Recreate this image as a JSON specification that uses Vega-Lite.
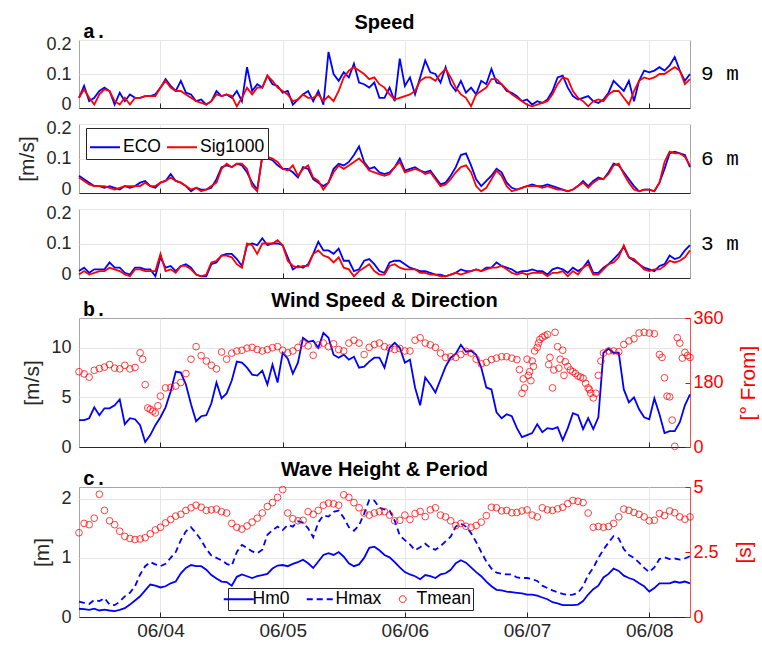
{
"$schema": "https://vega.github.io/schema/vega-lite/v6.json",
"padding": {"left": 16, "top": 12, "right": 0, "bottom": 0},
"background": "white",
"bounds": "flush",
"spacing": 16,
"config": {
  "font": "Liberation Sans",
  "view": {"stroke": "#a6a6a6", "strokeWidth": 1},
  "axis": {"labelFont": "Liberation Sans", "labelFontSize": 18, "labelColor": "#262626", "titleFont": "Liberation Sans", "titleFontSize": 21, "titleFontWeight": "normal", "titleColor": "#262626", "gridColor": "#e6e6e6", "gridWidth": 1, "domainColor": "#262626", "tickColor": "#262626", "labelPadding": 8, "labelOverlap": false},
  "title": {"font": "Liberation Sans", "fontSize": 20, "fontWeight": "bold", "color": "#000000", "anchor": "middle", "frame": "group", "baseline": "alphabetic", "offset": -11}
},
"resolve": {"scale": {"color": "independent"}, "legend": {"color": "independent"}},
"datasets": {
"h": [
{"t":"2021-06-03T08:00","e9":0.03,"s9":0.03,"e6":0.05,"s6":0.045,"e3":0.02,"s3":0.01,"ws":2.7,"hm":0.14,"hx":0.26,"tm":3.24},
{"t":"2021-06-03T09:00","e9":0.065,"s9":0.055,"e6":0.04,"s6":0.035,"e3":0.03,"s3":0.02,"ws":2.7,"hm":0.135,"hx":0.24,"tm":3.6},
{"t":"2021-06-03T10:00","e9":0.02,"s9":0.03,"e6":0.03,"s6":0.025,"e3":0.015,"s3":0.01,"ws":2.9,"hm":0.12,"hx":0.22,"tm":3.55},
{"t":"2021-06-03T11:00","e9":0.03,"s9":0.01,"e6":0.02,"s6":0.02,"e3":0.025,"s3":0.015,"ws":4.0,"hm":0.14,"hx":0.29,"tm":3.8},
{"t":"2021-06-03T12:00","e9":0.05,"s9":0.04,"e6":0.02,"s6":0.02,"e3":0.025,"s3":0.02,"ws":3.2,"hm":0.11,"hx":0.27,"tm":4.72},
{"t":"2021-06-03T13:00","e9":0.06,"s9":0.055,"e6":0.015,"s6":0.02,"e3":0.025,"s3":0.02,"ws":3.9,"hm":0.125,"hx":0.32,"tm":4.1},
{"t":"2021-06-03T14:00","e9":0.05,"s9":0.05,"e6":0.02,"s6":0.015,"e3":0.045,"s3":0.03,"ws":3.9,"hm":0.11,"hx":0.21,"tm":3.7},
{"t":"2021-06-03T15:00","e9":0.01,"s9":0.02,"e6":0.015,"s6":0.01,"e3":0.03,"s3":0.025,"ws":4.2,"hm":0.1,"hx":0.2,"tm":3.55},
{"t":"2021-06-03T16:00","e9":0.045,"s9":0.01,"e6":0.01,"s6":0.015,"e3":0.03,"s3":0.02,"ws":4.8,"hm":0.12,"hx":0.26,"tm":3.3},
{"t":"2021-06-03T17:00","e9":0.02,"s9":0.03,"e6":0.02,"s6":0.02,"e3":0.015,"s3":0.01,"ws":2.3,"hm":0.15,"hx":0.35,"tm":3.1},
{"t":"2021-06-03T18:00","e9":0.04,"s9":0.01,"e6":0.015,"s6":0.02,"e3":0.01,"s3":0.005,"ws":2.9,"hm":0.21,"hx":0.41,"tm":3.02},
{"t":"2021-06-03T19:00","e9":0.03,"s9":0.03,"e6":0.02,"s6":0.02,"e3":0.03,"s3":0.025,"ws":2.8,"hm":0.28,"hx":0.52,"tm":2.98},
{"t":"2021-06-03T20:00","e9":0.03,"s9":0.03,"e6":0.03,"s6":0.02,"e3":0.03,"s3":0.025,"ws":2.2,"hm":0.35,"hx":0.72,"tm":3.0},
{"t":"2021-06-03T21:00","e9":0.035,"s9":0.035,"e6":0.035,"s6":0.03,"e3":0.025,"s3":0.02,"ws":0.5,"hm":0.45,"hx":0.86,"tm":3.05},
{"t":"2021-06-03T22:00","e9":0.035,"s9":0.035,"e6":0.02,"s6":0.02,"e3":0.025,"s3":0.02,"ws":1.2,"hm":0.55,"hx":0.93,"tm":3.2},
{"t":"2021-06-03T23:00","e9":0.04,"s9":0.035,"e6":0.015,"s6":0.02,"e3":0.005,"s3":0.02,"ws":2.2,"hm":0.53,"hx":0.89,"tm":3.35},
{"t":"2021-06-04T00:00","e9":0.06,"s9":0.06,"e6":0.03,"s6":0.03,"e3":0.06,"s3":0.07,"ws":3.0,"hm":0.5,"hx":0.86,"tm":3.45},
{"t":"2021-06-04T01:00","e9":0.085,"s9":0.08,"e6":0.035,"s6":0.035,"e3":0.03,"s3":0.02,"ws":4.0,"hm":0.52,"hx":0.9,"tm":3.62},
{"t":"2021-06-04T02:00","e9":0.065,"s9":0.06,"e6":0.055,"s6":0.045,"e3":0.035,"s3":0.025,"ws":5.6,"hm":0.57,"hx":1.0,"tm":3.75},
{"t":"2021-06-04T03:00","e9":0.05,"s9":0.05,"e6":0.035,"s6":0.035,"e3":0.02,"s3":0.015,"ws":7.6,"hm":0.6,"hx":1.1,"tm":3.88},
{"t":"2021-06-04T04:00","e9":0.08,"s9":0.05,"e6":0.03,"s6":0.03,"e3":0.035,"s3":0.035,"ws":7.5,"hm":0.74,"hx":1.3,"tm":3.95},
{"t":"2021-06-04T05:00","e9":0.045,"s9":0.04,"e6":0.02,"s6":0.02,"e3":0.04,"s3":0.035,"ws":6.3,"hm":0.83,"hx":1.45,"tm":4.1},
{"t":"2021-06-04T06:00","e9":0.04,"s9":0.03,"e6":0.005,"s6":0.01,"e3":0.03,"s3":0.025,"ws":4.3,"hm":0.88,"hx":1.52,"tm":4.2},
{"t":"2021-06-04T07:00","e9":0.02,"s9":0.02,"e6":0.015,"s6":0.015,"e3":0.01,"s3":0.01,"ws":2.6,"hm":0.86,"hx":1.42,"tm":4.3},
{"t":"2021-06-04T08:00","e9":0.025,"s9":0.015,"e6":0.01,"s6":0.005,"e3":0.005,"s3":0.005,"ws":3.1,"hm":0.86,"hx":1.3,"tm":4.22},
{"t":"2021-06-04T09:00","e9":0.01,"s9":0.01,"e6":0.01,"s6":0.01,"e3":0.005,"s3":0.01,"ws":3.2,"hm":0.8,"hx":1.15,"tm":4.1},
{"t":"2021-06-04T10:00","e9":0.02,"s9":0.02,"e6":0.015,"s6":0.02,"e3":0.04,"s3":0.045,"ws":4.4,"hm":0.71,"hx":1.04,"tm":4.12},
{"t":"2021-06-04T11:00","e9":0.05,"s9":0.04,"e6":0.04,"s6":0.03,"e3":0.045,"s3":0.05,"ws":6.5,"hm":0.65,"hx":1.0,"tm":4.15},
{"t":"2021-06-04T12:00","e9":0.035,"s9":0.035,"e6":0.075,"s6":0.07,"e3":0.065,"s3":0.065,"ws":4.9,"hm":0.6,"hx":0.96,"tm":4.05},
{"t":"2021-06-04T13:00","e9":0.04,"s9":0.04,"e6":0.08,"s6":0.085,"e3":0.07,"s3":0.065,"ws":5.4,"hm":0.59,"hx":0.9,"tm":4.0},
{"t":"2021-06-04T14:00","e9":0.03,"s9":0.035,"e6":0.075,"s6":0.075,"e3":0.07,"s3":0.06,"ws":6.7,"hm":0.53,"hx":0.87,"tm":3.6},
{"t":"2021-06-04T15:00","e9":0.05,"s9":0.005,"e6":0.085,"s6":0.085,"e3":0.055,"s3":0.04,"ws":8.6,"hm":0.68,"hx":1.1,"tm":3.45},
{"t":"2021-06-04T16:00","e9":0.02,"s9":0.03,"e6":0.08,"s6":0.085,"e3":0.035,"s3":0.03,"ws":8.5,"hm":0.72,"hx":1.22,"tm":3.38},
{"t":"2021-06-04T17:00","e9":0.12,"s9":0.06,"e6":0.06,"s6":0.07,"e3":0.095,"s3":0.1,"ws":8.0,"hm":0.69,"hx":1.17,"tm":3.5},
{"t":"2021-06-04T18:00","e9":0.05,"s9":0.04,"e6":0.03,"s6":0.02,"e3":0.1,"s3":0.095,"ws":7.3,"hm":0.66,"hx":1.11,"tm":3.65},
{"t":"2021-06-04T19:00","e9":0.07,"s9":0.06,"e6":0.01,"s6":0.005,"e3":0.095,"s3":0.07,"ws":7.2,"hm":0.69,"hx":1.08,"tm":3.8},
{"t":"2021-06-04T20:00","e9":0.06,"s9":0.06,"e6":0.105,"s6":0.11,"e3":0.115,"s3":0.1,"ws":7.7,"hm":0.71,"hx":1.14,"tm":4.0},
{"t":"2021-06-04T21:00","e9":0.095,"s9":0.095,"e6":0.1,"s6":0.105,"e3":0.095,"s3":0.1,"ws":6.3,"hm":0.73,"hx":1.39,"tm":4.25},
{"t":"2021-06-04T22:00","e9":0.07,"s9":0.08,"e6":0.095,"s6":0.1,"e3":0.1,"s3":0.1,"ws":8.3,"hm":0.82,"hx":1.47,"tm":4.4},
{"t":"2021-06-04T23:00","e9":0.065,"s9":0.06,"e6":0.08,"s6":0.09,"e3":0.1,"s3":0.11,"ws":6.5,"hm":0.87,"hx":1.53,"tm":4.6},
{"t":"2021-06-05T00:00","e9":0.045,"s9":0.05,"e6":0.07,"s6":0.07,"e3":0.095,"s3":0.095,"ws":9.5,"hm":0.88,"hx":1.47,"tm":4.9},
{"t":"2021-06-05T01:00","e9":0.05,"s9":0.04,"e6":0.07,"s6":0.065,"e3":0.06,"s3":0.05,"ws":8.9,"hm":0.86,"hx":1.56,"tm":4.0},
{"t":"2021-06-05T02:00","e9":0.01,"s9":0.02,"e6":0.06,"s6":0.08,"e3":0.025,"s3":0.035,"ws":7.4,"hm":0.9,"hx":1.53,"tm":3.78},
{"t":"2021-06-05T03:00","e9":0.025,"s9":0.025,"e6":0.045,"s6":0.05,"e3":0.035,"s3":0.03,"ws":8.5,"hm":0.93,"hx":1.62,"tm":3.7},
{"t":"2021-06-05T04:00","e9":0.04,"s9":0.04,"e6":0.075,"s6":0.07,"e3":0.03,"s3":0.035,"ws":11.0,"hm":0.97,"hx":1.6,"tm":3.72},
{"t":"2021-06-05T05:00","e9":0.05,"s9":0.03,"e6":0.07,"s6":0.08,"e3":0.04,"s3":0.035,"ws":10.6,"hm":0.91,"hx":1.5,"tm":4.05},
{"t":"2021-06-05T06:00","e9":0.02,"s9":0.03,"e6":0.04,"s6":0.045,"e3":0.07,"s3":0.07,"ws":10.7,"hm":0.83,"hx":1.35,"tm":3.95},
{"t":"2021-06-05T07:00","e9":0.05,"s9":0.04,"e6":0.03,"s6":0.035,"e3":0.105,"s3":0.08,"ws":10.0,"hm":0.94,"hx":1.6,"tm":4.1},
{"t":"2021-06-05T08:00","e9":0.01,"s9":0.02,"e6":0.02,"s6":0.01,"e3":0.08,"s3":0.065,"ws":11.5,"hm":1.05,"hx":1.72,"tm":4.3},
{"t":"2021-06-05T09:00","e9":0.165,"s9":0.035,"e6":0.03,"s6":0.03,"e3":0.08,"s3":0.06,"ws":11.0,"hm":1.08,"hx":1.7,"tm":4.38},
{"t":"2021-06-05T10:00","e9":0.1,"s9":0.02,"e6":0.07,"s6":0.06,"e3":0.07,"s3":0.045,"ws":9.3,"hm":1.05,"hx":1.78,"tm":4.35},
{"t":"2021-06-05T11:00","e9":0.08,"s9":0.05,"e6":0.085,"s6":0.08,"e3":0.085,"s3":0.06,"ws":9.0,"hm":1.1,"hx":1.8,"tm":4.3},
{"t":"2021-06-05T12:00","e9":0.105,"s9":0.09,"e6":0.08,"s6":0.07,"e3":0.05,"s3":0.03,"ws":9.3,"hm":1.02,"hx":1.68,"tm":4.7},
{"t":"2021-06-05T13:00","e9":0.09,"s9":0.11,"e6":0.09,"s6":0.08,"e3":0.05,"s3":0.025,"ws":8.8,"hm":0.91,"hx":1.52,"tm":4.6},
{"t":"2021-06-05T14:00","e9":0.13,"s9":0.12,"e6":0.11,"s6":0.09,"e3":0.02,"s3":0.005,"ws":9.1,"hm":0.86,"hx":1.46,"tm":4.4},
{"t":"2021-06-05T15:00","e9":0.075,"s9":0.11,"e6":0.135,"s6":0.1,"e3":0.025,"s3":0.02,"ws":8.0,"hm":0.89,"hx":1.55,"tm":4.2},
{"t":"2021-06-05T16:00","e9":0.07,"s9":0.1,"e6":0.09,"s6":0.085,"e3":0.05,"s3":0.03,"ws":8.1,"hm":1.0,"hx":1.75,"tm":4.0},
{"t":"2021-06-05T17:00","e9":0.06,"s9":0.085,"e6":0.07,"s6":0.065,"e3":0.055,"s3":0.04,"ws":8.6,"hm":1.17,"hx":1.98,"tm":3.92},
{"t":"2021-06-05T18:00","e9":0.075,"s9":0.09,"e6":0.075,"s6":0.06,"e3":0.04,"s3":0.02,"ws":9.0,"hm":1.19,"hx":1.97,"tm":4.0},
{"t":"2021-06-05T19:00","e9":0.03,"s9":0.07,"e6":0.06,"s6":0.055,"e3":0.02,"s3":0.01,"ws":9.0,"hm":1.13,"hx":1.85,"tm":4.05},
{"t":"2021-06-05T20:00","e9":0.03,"s9":0.06,"e6":0.055,"s6":0.05,"e3":0.015,"s3":0.01,"ws":8.0,"hm":1.05,"hx":1.82,"tm":4.05},
{"t":"2021-06-05T21:00","e9":0.06,"s9":0.04,"e6":0.06,"s6":0.055,"e3":0.045,"s3":0.035,"ws":10.0,"hm":1.01,"hx":1.8,"tm":3.92},
{"t":"2021-06-05T22:00","e9":0.02,"s9":0.025,"e6":0.075,"s6":0.075,"e3":0.05,"s3":0.04,"ws":10.5,"hm":0.93,"hx":1.63,"tm":3.7},
{"t":"2021-06-05T23:00","e9":0.145,"s9":0.03,"e6":0.1,"s6":0.09,"e3":0.05,"s3":0.03,"ws":10.0,"hm":0.84,"hx":1.38,"tm":3.72},
{"t":"2021-06-06T00:00","e9":0.065,"s9":0.035,"e6":0.065,"s6":0.06,"e3":0.04,"s3":0.025,"ws":8.5,"hm":0.76,"hx":1.3,"tm":3.92},
{"t":"2021-06-06T01:00","e9":0.09,"s9":0.04,"e6":0.07,"s6":0.065,"e3":0.03,"s3":0.025,"ws":8.8,"hm":0.72,"hx":1.23,"tm":3.75},
{"t":"2021-06-06T02:00","e9":0.04,"s9":0.05,"e6":0.075,"s6":0.07,"e3":0.025,"s3":0.025,"ws":6.0,"hm":0.69,"hx":1.13,"tm":3.98},
{"t":"2021-06-06T03:00","e9":0.09,"s9":0.08,"e6":0.065,"s6":0.065,"e3":0.02,"s3":0.015,"ws":4.2,"hm":0.64,"hx":1.18,"tm":4.06},
{"t":"2021-06-06T04:00","e9":0.14,"s9":0.09,"e6":0.06,"s6":0.055,"e3":0.02,"s3":0.015,"ws":7.0,"hm":0.71,"hx":1.24,"tm":3.86},
{"t":"2021-06-06T05:00","e9":0.105,"s9":0.09,"e6":0.065,"s6":0.06,"e3":0.015,"s3":0.01,"ws":6.3,"hm":0.69,"hx":1.17,"tm":4.12},
{"t":"2021-06-06T06:00","e9":0.1,"s9":0.08,"e6":0.045,"s6":0.04,"e3":0.01,"s3":0.01,"ws":5.5,"hm":0.66,"hx":1.14,"tm":4.2},
{"t":"2021-06-06T07:00","e9":0.075,"s9":0.1,"e6":0.025,"s6":0.02,"e3":0.01,"s3":0.005,"ws":6.8,"hm":0.72,"hx":1.2,"tm":3.92},
{"t":"2021-06-06T08:00","e9":0.12,"s9":0.115,"e6":0.03,"s6":0.025,"e3":0.005,"s3":0.005,"ws":8.1,"hm":0.74,"hx":1.28,"tm":3.85},
{"t":"2021-06-06T09:00","e9":0.07,"s9":0.09,"e6":0.05,"s6":0.04,"e3":0.01,"s3":0.01,"ws":9.0,"hm":0.8,"hx":1.36,"tm":3.7},
{"t":"2021-06-06T10:00","e9":0.05,"s9":0.06,"e6":0.075,"s6":0.06,"e3":0.015,"s3":0.015,"ws":9.4,"hm":0.91,"hx":1.53,"tm":3.52},
{"t":"2021-06-06T11:00","e9":0.08,"s9":0.04,"e6":0.11,"s6":0.075,"e3":0.025,"s3":0.01,"ws":10.3,"hm":0.96,"hx":1.58,"tm":3.6},
{"t":"2021-06-06T12:00","e9":0.045,"s9":0.03,"e6":0.115,"s6":0.08,"e3":0.02,"s3":0.015,"ws":9.6,"hm":0.92,"hx":1.53,"tm":3.49},
{"t":"2021-06-06T13:00","e9":0.06,"s9":0.005,"e6":0.08,"s6":0.06,"e3":0.02,"s3":0.02,"ws":9.7,"hm":0.84,"hx":1.42,"tm":3.45},
{"t":"2021-06-06T14:00","e9":0.04,"s9":0.04,"e6":0.04,"s6":0.02,"e3":0.025,"s3":0.025,"ws":9.3,"hm":0.76,"hx":1.27,"tm":3.52},
{"t":"2021-06-06T15:00","e9":0.08,"s9":0.05,"e6":0.02,"s6":0.005,"e3":0.02,"s3":0.02,"ws":8.0,"hm":0.69,"hx":1.1,"tm":3.65},
{"t":"2021-06-06T16:00","e9":0.07,"s9":0.06,"e6":0.035,"s6":0.015,"e3":0.03,"s3":0.025,"ws":6.0,"hm":0.6,"hx":0.94,"tm":3.9},
{"t":"2021-06-06T17:00","e9":0.115,"s9":0.085,"e6":0.05,"s6":0.04,"e3":0.03,"s3":0.03,"ws":5.8,"hm":0.52,"hx":0.82,"tm":4.22},
{"t":"2021-06-06T18:00","e9":0.075,"s9":0.085,"e6":0.07,"s6":0.065,"e3":0.045,"s3":0.03,"ws":3.5,"hm":0.46,"hx":0.75,"tm":4.2},
{"t":"2021-06-06T19:00","e9":0.07,"s9":0.07,"e6":0.06,"s6":0.05,"e3":0.035,"s3":0.035,"ws":2.9,"hm":0.45,"hx":0.73,"tm":4.08},
{"t":"2021-06-06T20:00","e9":0.05,"s9":0.055,"e6":0.03,"s6":0.02,"e3":0.03,"s3":0.025,"ws":3.3,"hm":0.43,"hx":0.72,"tm":4.1},
{"t":"2021-06-06T21:00","e9":0.045,"s9":0.04,"e6":0.015,"s6":0.005,"e3":0.025,"s3":0.015,"ws":3.1,"hm":0.42,"hx":0.72,"tm":4.01},
{"t":"2021-06-06T22:00","e9":0.035,"s9":0.03,"e6":0.01,"s6":0.01,"e3":0.015,"s3":0.01,"ws":1.9,"hm":0.41,"hx":0.67,"tm":4.02},
{"t":"2021-06-06T23:00","e9":0.02,"s9":0.02,"e6":0.015,"s6":0.015,"e3":0.02,"s3":0.015,"ws":1.0,"hm":0.4,"hx":0.66,"tm":4.08},
{"t":"2021-06-07T00:00","e9":0.025,"s9":0.01,"e6":0.02,"s6":0.02,"e3":0.02,"s3":0.01,"ws":1.2,"hm":0.38,"hx":0.66,"tm":4.12},
{"t":"2021-06-07T01:00","e9":0.01,"s9":0.005,"e6":0.025,"s6":0.02,"e3":0.025,"s3":0.015,"ws":1.4,"hm":0.38,"hx":0.64,"tm":3.92},
{"t":"2021-06-07T02:00","e9":0.02,"s9":0.01,"e6":0.02,"s6":0.02,"e3":0.02,"s3":0.015,"ws":2.3,"hm":0.36,"hx":0.61,"tm":3.85},
{"t":"2021-06-07T03:00","e9":0.015,"s9":0.015,"e6":0.02,"s6":0.015,"e3":0.02,"s3":0.015,"ws":1.5,"hm":0.33,"hx":0.53,"tm":4.2},
{"t":"2021-06-07T04:00","e9":0.025,"s9":0.02,"e6":0.025,"s6":0.02,"e3":0.01,"s3":0.005,"ws":1.9,"hm":0.3,"hx":0.49,"tm":4.12},
{"t":"2021-06-07T05:00","e9":0.05,"s9":0.04,"e6":0.02,"s6":0.015,"e3":0.025,"s3":0.015,"ws":1.8,"hm":0.25,"hx":0.45,"tm":4.1},
{"t":"2021-06-07T06:00","e9":0.09,"s9":0.07,"e6":0.015,"s6":0.01,"e3":0.03,"s3":0.015,"ws":2.0,"hm":0.23,"hx":0.42,"tm":4.16},
{"t":"2021-06-07T07:00","e9":0.095,"s9":0.09,"e6":0.01,"s6":0.01,"e3":0.025,"s3":0.02,"ws":0.7,"hm":0.2,"hx":0.39,"tm":4.22},
{"t":"2021-06-07T08:00","e9":0.06,"s9":0.085,"e6":0.005,"s6":0.005,"e3":0.015,"s3":0.005,"ws":1.9,"hm":0.2,"hx":0.37,"tm":4.36},
{"t":"2021-06-07T09:00","e9":0.035,"s9":0.05,"e6":0.01,"s6":0.01,"e3":0.03,"s3":0.02,"ws":3.4,"hm":0.2,"hx":0.38,"tm":4.48},
{"t":"2021-06-07T10:00","e9":0.025,"s9":0.03,"e6":0.02,"s6":0.02,"e3":0.02,"s3":0.01,"ws":3.2,"hm":0.21,"hx":0.41,"tm":4.45},
{"t":"2021-06-07T11:00","e9":0.03,"s9":0.02,"e6":0.035,"s6":0.03,"e3":0.03,"s3":0.03,"ws":1.8,"hm":0.27,"hx":0.52,"tm":4.4},
{"t":"2021-06-07T12:00","e9":0.035,"s9":0.005,"e6":0.02,"s6":0.015,"e3":0.05,"s3":0.04,"ws":2.9,"hm":0.38,"hx":0.71,"tm":4.0},
{"t":"2021-06-07T13:00","e9":0.02,"s9":0.02,"e6":0.035,"s6":0.03,"e3":0.015,"s3":0.01,"ws":1.8,"hm":0.47,"hx":0.83,"tm":3.45},
{"t":"2021-06-07T14:00","e9":0.015,"s9":0.025,"e6":0.045,"s6":0.04,"e3":0.015,"s3":0.01,"ws":3.0,"hm":0.53,"hx":1.0,"tm":3.48},
{"t":"2021-06-07T15:00","e9":0.025,"s9":0.02,"e6":0.04,"s6":0.04,"e3":0.03,"s3":0.025,"ws":9.5,"hm":0.67,"hx":1.14,"tm":3.45},
{"t":"2021-06-07T16:00","e9":0.045,"s9":0.04,"e6":0.06,"s6":0.055,"e3":0.04,"s3":0.04,"ws":9.9,"hm":0.73,"hx":1.26,"tm":3.48},
{"t":"2021-06-07T17:00","e9":0.08,"s9":0.05,"e6":0.085,"s6":0.08,"e3":0.055,"s3":0.045,"ws":9.5,"hm":0.82,"hx":1.37,"tm":3.6},
{"t":"2021-06-07T18:00","e9":0.065,"s9":0.05,"e6":0.08,"s6":0.085,"e3":0.07,"s3":0.06,"ws":9.5,"hm":0.78,"hx":1.33,"tm":3.85},
{"t":"2021-06-07T19:00","e9":0.05,"s9":0.03,"e6":0.06,"s6":0.055,"e3":0.09,"s3":0.095,"ws":5.8,"hm":0.7,"hx":1.15,"tm":4.15},
{"t":"2021-06-07T20:00","e9":0.08,"s9":0.01,"e6":0.04,"s6":0.03,"e3":0.06,"s3":0.06,"ws":4.5,"hm":0.66,"hx":1.05,"tm":4.1},
{"t":"2021-06-07T21:00","e9":0.02,"s9":0.05,"e6":0.02,"s6":0.01,"e3":0.05,"s3":0.055,"ws":5.0,"hm":0.63,"hx":1.0,"tm":4.02},
{"t":"2021-06-07T22:00","e9":0.08,"s9":0.08,"e6":0.005,"s6":0.005,"e3":0.04,"s3":0.04,"ws":3.8,"hm":0.57,"hx":0.92,"tm":3.95},
{"t":"2021-06-07T23:00","e9":0.11,"s9":0.09,"e6":0.01,"s6":0.01,"e3":0.03,"s3":0.025,"ws":3.0,"hm":0.52,"hx":0.83,"tm":3.85},
{"t":"2021-06-08T00:00","e9":0.105,"s9":0.085,"e6":0.01,"s6":0.01,"e3":0.025,"s3":0.02,"ws":2.8,"hm":0.43,"hx":0.76,"tm":3.7},
{"t":"2021-06-08T01:00","e9":0.11,"s9":0.09,"e6":0.005,"s6":0.005,"e3":0.02,"s3":0.025,"ws":4.9,"hm":0.49,"hx":0.84,"tm":3.72},
{"t":"2021-06-08T02:00","e9":0.12,"s9":0.1,"e6":0.03,"s6":0.03,"e3":0.035,"s3":0.025,"ws":3.3,"hm":0.57,"hx":0.98,"tm":3.98},
{"t":"2021-06-08T03:00","e9":0.11,"s9":0.1,"e6":0.07,"s6":0.09,"e3":0.04,"s3":0.035,"ws":1.4,"hm":0.57,"hx":1.01,"tm":3.9},
{"t":"2021-06-08T04:00","e9":0.125,"s9":0.11,"e6":0.115,"s6":0.12,"e3":0.065,"s3":0.05,"ws":1.6,"hm":0.57,"hx":0.98,"tm":4.08},
{"t":"2021-06-08T05:00","e9":0.15,"s9":0.12,"e6":0.12,"s6":0.115,"e3":0.055,"s3":0.045,"ws":1.6,"hm":0.6,"hx":0.99,"tm":4.01},
{"t":"2021-06-08T06:00","e9":0.11,"s9":0.11,"e6":0.115,"s6":0.115,"e3":0.06,"s3":0.05,"ws":2.5,"hm":0.58,"hx":0.97,"tm":3.85},
{"t":"2021-06-08T07:00","e9":0.08,"s9":0.07,"e6":0.11,"s6":0.105,"e3":0.08,"s3":0.06,"ws":4.2,"hm":0.6,"hx":0.99,"tm":3.76},
{"t":"2021-06-08T08:00","e9":0.1,"s9":0.085,"e6":0.075,"s6":0.08,"e3":0.095,"s3":0.08,"ws":5.3,"hm":0.57,"hx":1.03,"tm":3.85}
],
"dir": [
{"t":"2021-06-03T08:00","d":210},{"t":"2021-06-03T09:00","d":204},{"t":"2021-06-03T10:00","d":195},{"t":"2021-06-03T11:00","d":214},{"t":"2021-06-03T12:00","d":219},{"t":"2021-06-03T13:00","d":223},{"t":"2021-06-03T14:00","d":230},{"t":"2021-06-03T15:00","d":220},{"t":"2021-06-03T16:00","d":218},{"t":"2021-06-03T17:00","d":228},{"t":"2021-06-03T18:00","d":218},{"t":"2021-06-03T19:00","d":222},{"t":"2021-06-03T20:00","d":263},{"t":"2021-06-03T20:30","d":245},{"t":"2021-06-03T21:00","d":174},{"t":"2021-06-03T21:30","d":109},{"t":"2021-06-03T22:00","d":105},{"t":"2021-06-03T22:30","d":100},{"t":"2021-06-03T23:00","d":95},{"t":"2021-06-03T23:30","d":115},
{"t":"2021-06-04T00:00","d":142},{"t":"2021-06-04T01:00","d":165},{"t":"2021-06-04T02:00","d":166},{"t":"2021-06-04T03:00","d":170},{"t":"2021-06-04T04:00","d":180},{"t":"2021-06-04T05:00","d":205},{"t":"2021-06-04T06:00","d":245},{"t":"2021-06-04T07:00","d":280},{"t":"2021-06-04T08:00","d":255},{"t":"2021-06-04T09:00","d":240},{"t":"2021-06-04T10:00","d":228},{"t":"2021-06-04T11:00","d":218},{"t":"2021-06-04T12:00","d":265},{"t":"2021-06-04T13:00","d":245},{"t":"2021-06-04T14:00","d":262},{"t":"2021-06-04T15:00","d":268},{"t":"2021-06-04T16:00","d":270},{"t":"2021-06-04T17:00","d":276},{"t":"2021-06-04T18:00","d":278},{"t":"2021-06-04T19:00","d":272},{"t":"2021-06-04T20:00","d":268},{"t":"2021-06-04T21:00","d":272},{"t":"2021-06-04T22:00","d":277},{"t":"2021-06-04T23:00","d":280},
{"t":"2021-06-05T00:00","d":270},{"t":"2021-06-05T01:00","d":263},{"t":"2021-06-05T02:00","d":268},{"t":"2021-06-05T03:00","d":278},{"t":"2021-06-05T04:00","d":290},{"t":"2021-06-05T05:00","d":282},{"t":"2021-06-05T06:00","d":256},{"t":"2021-06-05T07:00","d":285},{"t":"2021-06-05T08:00","d":290},{"t":"2021-06-05T09:00","d":280},{"t":"2021-06-05T10:00","d":288},{"t":"2021-06-05T11:00","d":272},{"t":"2021-06-05T12:00","d":268},{"t":"2021-06-05T13:00","d":290},{"t":"2021-06-05T14:00","d":298},{"t":"2021-06-05T15:00","d":290},{"t":"2021-06-05T16:00","d":258},{"t":"2021-06-05T17:00","d":278},{"t":"2021-06-05T18:00","d":286},{"t":"2021-06-05T19:00","d":290},{"t":"2021-06-05T20:00","d":280},{"t":"2021-06-05T21:00","d":276},{"t":"2021-06-05T22:00","d":272},{"t":"2021-06-05T23:00","d":275},
{"t":"2021-06-06T00:00","d":268},{"t":"2021-06-06T01:00","d":268},{"t":"2021-06-06T02:00","d":298},{"t":"2021-06-06T03:00","d":305},{"t":"2021-06-06T04:00","d":290},{"t":"2021-06-06T05:00","d":285},{"t":"2021-06-06T06:00","d":278},{"t":"2021-06-06T07:00","d":262},{"t":"2021-06-06T08:00","d":250},{"t":"2021-06-06T09:00","d":252},{"t":"2021-06-06T10:00","d":250},{"t":"2021-06-06T11:00","d":258},{"t":"2021-06-06T12:00","d":267},{"t":"2021-06-06T13:00","d":262},{"t":"2021-06-06T14:00","d":245},{"t":"2021-06-06T15:00","d":232},{"t":"2021-06-06T16:00","d":236},{"t":"2021-06-06T17:00","d":244},{"t":"2021-06-06T18:00","d":248},{"t":"2021-06-06T19:00","d":252},{"t":"2021-06-06T20:00","d":252},{"t":"2021-06-06T21:00","d":248},{"t":"2021-06-06T22:00","d":244},{"t":"2021-06-06T22:30","d":216},{"t":"2021-06-06T23:00","d":150},{"t":"2021-06-06T23:15","d":190},{"t":"2021-06-06T23:30","d":165},
{"t":"2021-06-07T00:00","d":245},{"t":"2021-06-07T00:15","d":200},{"t":"2021-06-07T00:30","d":210},{"t":"2021-06-07T00:45","d":185},{"t":"2021-06-07T01:00","d":240},{"t":"2021-06-07T01:15","d":225},{"t":"2021-06-07T01:30","d":268},{"t":"2021-06-07T02:00","d":278},{"t":"2021-06-07T02:15","d":290},{"t":"2021-06-07T02:30","d":300},{"t":"2021-06-07T03:00","d":306},{"t":"2021-06-07T03:30","d":310},{"t":"2021-06-07T04:00","d":314},{"t":"2021-06-07T04:15","d":230},{"t":"2021-06-07T04:30","d":250},{"t":"2021-06-07T05:00","d":165},{"t":"2021-06-07T05:15","d":215},{"t":"2021-06-07T05:30","d":320},{"t":"2021-06-07T06:00","d":280},{"t":"2021-06-07T06:15","d":220},{"t":"2021-06-07T06:30","d":245},{"t":"2021-06-07T07:00","d":270},{"t":"2021-06-07T07:15","d":200},{"t":"2021-06-07T07:30","d":238},{"t":"2021-06-07T08:00","d":225},{"t":"2021-06-07T08:30","d":215},{"t":"2021-06-07T09:00","d":210},{"t":"2021-06-07T09:30","d":205},{"t":"2021-06-07T10:00","d":198},{"t":"2021-06-07T10:30","d":195},{"t":"2021-06-07T11:00","d":192},{"t":"2021-06-07T11:30","d":178},{"t":"2021-06-07T12:00","d":165},{"t":"2021-06-07T12:15","d":160},{"t":"2021-06-07T12:30","d":150},{"t":"2021-06-07T13:00","d":137},{"t":"2021-06-07T13:30","d":150},{"t":"2021-06-07T14:00","d":200},{"t":"2021-06-07T14:30","d":240},{"t":"2021-06-07T15:00","d":262},{"t":"2021-06-07T16:00","d":268},{"t":"2021-06-07T17:00","d":268},{"t":"2021-06-07T18:00","d":266},{"t":"2021-06-07T19:00","d":286},{"t":"2021-06-07T20:00","d":296},{"t":"2021-06-07T21:00","d":302},{"t":"2021-06-07T22:00","d":318},{"t":"2021-06-07T23:00","d":320},
{"t":"2021-06-08T00:00","d":318},{"t":"2021-06-08T01:00","d":316},{"t":"2021-06-08T02:00","d":258},{"t":"2021-06-08T02:30","d":250},{"t":"2021-06-08T03:00","d":193},{"t":"2021-06-08T03:30","d":142},{"t":"2021-06-08T04:00","d":140},{"t":"2021-06-08T04:30","d":75},{"t":"2021-06-08T05:00","d":2},{"t":"2021-06-08T05:30","d":305},{"t":"2021-06-08T06:00","d":290},{"t":"2021-06-08T06:30","d":248},{"t":"2021-06-08T07:00","d":264},{"t":"2021-06-08T07:30","d":255},{"t":"2021-06-08T08:00","d":250}
]
},
"vconcat": [
{
  "width": 611, "height": 68,
  "title": {"text": "Speed"},
  "layer": [
    {"data": {"name": "h"}, "mark": {"type": "line", "color": "#0000ff", "strokeWidth": 1.8}, "encoding": {
      "x": {"field": "t", "type": "temporal", "scale": {"domain": [{"year":2021,"month":6,"date":3,"hours":8},{"year":2021,"month":6,"date":8,"hours":8}]}, "axis": {"title": null, "labels": false, "values": [{"year":2021,"month":6,"date":4},{"year":2021,"month":6,"date":5},{"year":2021,"month":6,"date":6},{"year":2021,"month":6,"date":7},{"year":2021,"month":6,"date":8}], "grid": true, "ticks": true, "tickSize": -5}},
      "y": {"field": "e9", "type": "quantitative", "scale": {"domain": [0, 0.2]}, "axis": {"values": [0, 0.1, 0.2], "tickCount": 10, "format": "~g", "title": null, "grid": true, "domain": false, "ticks": false, "labelOffset": {"condition": [{"test": "datum.value === 0", "value": -4}, {"test": "datum.value === 0.2", "value": 4}], "value": 0}}}}},
    {"data": {"name": "h"}, "mark": {"type": "line", "color": "#ff0000", "strokeWidth": 1.8}, "encoding": {"x": {"field": "t", "type": "temporal"}, "y": {"field": "s9", "type": "quantitative"}}},
    {"data": {"values": [{"lab": "a."}]}, "mark": {"type": "text", "align": "left", "baseline": "alphabetic", "dx": 4, "dy": -2, "font": "Liberation Mono", "fontWeight": "bold", "fontSize": 20, "color": "#000000"}, "encoding": {"x": {"datum": {"year":2021,"month":6,"date":3,"hours":8}, "type": "temporal"}, "y": {"datum": 0.2, "type": "quantitative"}, "text": {"field": "lab"}}},
    {"data": {"values": [{"lab": "9 m"}]}, "mark": {"type": "text", "align": "left", "baseline": "middle", "dx": 11, "font": "Liberation Mono", "fontWeight": "normal", "fontSize": 21, "color": "#000000"}, "encoding": {"x": {"datum": {"year":2021,"month":6,"date":8,"hours":8}, "type": "temporal"}, "y": {"datum": 0.1, "type": "quantitative"}, "text": {"field": "lab"}}}
  ]
},
{
  "width": 611, "height": 69,
  "layer": [
    {"data": {"name": "h"}, "mark": {"type": "line", "strokeWidth": 1.8}, "encoding": {
      "x": {"field": "t", "type": "temporal", "scale": {"domain": [{"year":2021,"month":6,"date":3,"hours":8},{"year":2021,"month":6,"date":8,"hours":8}]}, "axis": {"title": null, "labels": false, "values": [{"year":2021,"month":6,"date":4},{"year":2021,"month":6,"date":5},{"year":2021,"month":6,"date":6},{"year":2021,"month":6,"date":7},{"year":2021,"month":6,"date":8}], "grid": true, "ticks": true, "tickSize": -5}},
      "y": {"field": "e6", "type": "quantitative", "scale": {"domain": [0, 0.2]}, "axis": {"values": [0, 0.1, 0.2], "tickCount": 10, "format": "~g", "title": "[m/s]", "titlePadding": 8, "grid": true, "domain": false, "ticks": false, "labelOffset": {"condition": [{"test": "datum.value === 0", "value": -4}, {"test": "datum.value === 0.2", "value": 4}], "value": 0}}},
      "color": {"datum": "ECO", "type": "nominal", "scale": {"domain": ["ECO", "Sig1000"], "range": ["#0000ff", "#ff0000"]}, "legend": {"title": null, "orient": "none", "legendX": 7, "legendY": 4, "direction": "horizontal", "symbolType": "stroke", "symbolSize": 900, "symbolStrokeWidth": 2, "labelFont": "Liberation Sans", "labelFontSize": 17.5, "labelColor": "#000000", "fillColor": "#ffffff", "strokeColor": "#262626", "padding": 3, "columnPadding": 2, "labelOffset": 2}}}},
    {"data": {"name": "h"}, "mark": {"type": "line", "strokeWidth": 1.8}, "encoding": {"x": {"field": "t", "type": "temporal"}, "y": {"field": "s6", "type": "quantitative"}, "color": {"datum": "Sig1000", "type": "nominal"}}},
    {"data": {"values": [{"lab": "6 m"}]}, "mark": {"type": "text", "align": "left", "baseline": "middle", "dx": 11, "font": "Liberation Mono", "fontWeight": "normal", "fontSize": 21, "color": "#000000"}, "encoding": {"x": {"datum": {"year":2021,"month":6,"date":8,"hours":8}, "type": "temporal"}, "y": {"datum": 0.1, "type": "quantitative"}, "text": {"field": "lab"}}}
  ]
},
{
  "width": 611, "height": 69,
  "layer": [
    {"data": {"name": "h"}, "mark": {"type": "line", "color": "#0000ff", "strokeWidth": 1.8}, "encoding": {
      "x": {"field": "t", "type": "temporal", "scale": {"domain": [{"year":2021,"month":6,"date":3,"hours":8},{"year":2021,"month":6,"date":8,"hours":8}]}, "axis": {"title": null, "labels": false, "values": [{"year":2021,"month":6,"date":4},{"year":2021,"month":6,"date":5},{"year":2021,"month":6,"date":6},{"year":2021,"month":6,"date":7},{"year":2021,"month":6,"date":8}], "grid": true, "ticks": true, "tickSize": -5}},
      "y": {"field": "e3", "type": "quantitative", "scale": {"domain": [0, 0.2]}, "axis": {"values": [0, 0.1, 0.2], "tickCount": 10, "format": "~g", "title": null, "grid": true, "domain": false, "ticks": false, "labelOffset": {"condition": [{"test": "datum.value === 0", "value": -4}, {"test": "datum.value === 0.2", "value": 4}], "value": 0}}}}},
    {"data": {"name": "h"}, "mark": {"type": "line", "color": "#ff0000", "strokeWidth": 1.8}, "encoding": {"x": {"field": "t", "type": "temporal"}, "y": {"field": "s3", "type": "quantitative"}}},
    {"data": {"values": [{"lab": "3 m"}]}, "mark": {"type": "text", "align": "left", "baseline": "middle", "dx": 11, "font": "Liberation Mono", "fontWeight": "normal", "fontSize": 21, "color": "#000000"}, "encoding": {"x": {"datum": {"year":2021,"month":6,"date":8,"hours":8}, "type": "temporal"}, "y": {"datum": 0.1, "type": "quantitative"}, "text": {"field": "lab"}}}
  ]
},
{"width": 611, "height": 8, "view": {"stroke": null}, "data": {"values": []}, "mark": "point"},
{
  "width": 611, "height": 129,
  "title": {"text": "Wind Speed & Direction"},
  "layer": [
    {"data": {"name": "h"}, "mark": {"type": "line", "color": "#0000ff", "strokeWidth": 1.8}, "encoding": {
      "x": {"field": "t", "type": "temporal", "scale": {"domain": [{"year":2021,"month":6,"date":3,"hours":8},{"year":2021,"month":6,"date":8,"hours":8}]}, "axis": {"title": null, "labels": false, "values": [{"year":2021,"month":6,"date":4},{"year":2021,"month":6,"date":5},{"year":2021,"month":6,"date":6},{"year":2021,"month":6,"date":7},{"year":2021,"month":6,"date":8}], "grid": true, "ticks": true, "tickSize": -5}},
      "y": {"field": "ws", "type": "quantitative", "scale": {"domain": [0, 13]}, "axis": {"orient": "left", "values": [0, 5, 10], "tickCount": 10, "title": "[m/s]", "titlePadding": 8, "grid": true, "domain": false, "ticks": false}}}},
    {"data": {"name": "dir"}, "mark": {"type": "point", "filled": false, "color": "#ff0000", "size": 45, "strokeWidth": 1, "opacity": 0.75}, "encoding": {"x": {"field": "t", "type": "temporal"}, "y": {"field": "d", "type": "quantitative", "scale": {"domain": [0, 360]}, "axis": {"orient": "right", "values": [0, 180, 360], "tickCount": 10, "title": "[° From]", "titleAngle": 270, "titlePadding": 35, "titleColor": "#ff0000", "labelColor": "#ff0000", "grid": false, "domain": true, "domainColor": "#ff4d4d", "ticks": true, "tickSize": -5, "tickColor": "#ff0000"}}}},
    {"data": {"values": [{"lab": "b."}]}, "mark": {"type": "text", "align": "left", "baseline": "alphabetic", "dx": 4, "dy": -2, "font": "Liberation Mono", "fontWeight": "bold", "fontSize": 20, "color": "#000000"}, "encoding": {"x": {"datum": {"year":2021,"month":6,"date":3,"hours":8}, "type": "temporal"}, "y": {"datum": 13, "type": "quantitative", "scale": {"domain": [0, 13]}, "axis": null}, "text": {"field": "lab"}}}
  ],
  "resolve": {"scale": {"y": "independent"}}
},
{"width": 611, "height": 8, "view": {"stroke": null}, "data": {"values": []}, "mark": "point"},
{
  "width": 611, "height": 130,
  "title": {"text": "Wave Height & Period"},
  "layer": [
    {"layer": [
      {"data": {"name": "h"}, "mark": {"type": "line", "strokeWidth": 1.8}, "encoding": {
        "x": {"field": "t", "type": "temporal", "scale": {"domain": [{"year":2021,"month":6,"date":3,"hours":8},{"year":2021,"month":6,"date":8,"hours":8}]}, "axis": {"title": null, "format": "%m/%d", "labelFontSize": 19, "labelPadding": 9, "labelFlush": false, "values": [{"year":2021,"month":6,"date":4},{"year":2021,"month":6,"date":5},{"year":2021,"month":6,"date":6},{"year":2021,"month":6,"date":7},{"year":2021,"month":6,"date":8}], "grid": true, "ticks": true, "tickSize": -5}},
        "y": {"field": "hm", "type": "quantitative", "scale": {"domain": [0, 2.2]}, "axis": {"orient": "left", "values": [0, 1, 2], "tickCount": 10, "format": "~g", "title": "[m]", "titlePadding": 8, "grid": true, "domain": false, "ticks": false}},
        "color": {"datum": "Hm0", "type": "nominal", "scale": {"domain": ["Hm0", "Hmax", "Tmean"], "range": ["#0000ff", "#0000ff", "#ff0000"]}, "legend": {"title": null, "orient": "none", "legendX": 149, "legendY": 101, "direction": "horizontal", "symbolType": "stroke", "symbolSize": 900, "symbolStrokeWidth": 2, "labelFont": "Liberation Sans", "labelFontSize": 17.5, "labelColor": "#000000", "fillColor": "#ffffff", "strokeColor": "#262626", "padding": 2, "columnPadding": 12, "labelOffset": 5, "encode": {"symbols": {"update": {"shape": {"signal": "datum.value === 'Tmean' ? 'circle' : 'stroke'"}, "size": {"signal": "datum.value === 'Tmean' ? 45 : 900"}, "strokeDash": {"signal": "datum.value === 'Hmax' ? [6, 4] : [1, 0]"}, "strokeWidth": {"signal": "datum.value === 'Tmean' ? 1 : 2"}, "fill": {"value": "transparent"}}}}}}}},
      {"data": {"name": "h"}, "mark": {"type": "line", "strokeWidth": 1.8, "strokeDash": [6, 4]}, "encoding": {"x": {"field": "t", "type": "temporal"}, "y": {"field": "hx", "type": "quantitative"}, "color": {"datum": "Hmax", "type": "nominal"}}},
      {"data": {"values": [{"lab": "c."}]}, "mark": {"type": "text", "align": "left", "baseline": "alphabetic", "dx": 4, "dy": -2, "font": "Liberation Mono", "fontWeight": "bold", "fontSize": 20, "color": "#000000"}, "encoding": {"x": {"datum": {"year":2021,"month":6,"date":3,"hours":8}, "type": "temporal"}, "y": {"datum": 2.2, "type": "quantitative"}, "text": {"field": "lab"}}}
    ]},
    {"data": {"name": "h"}, "mark": {"type": "point", "filled": false, "size": 45, "strokeWidth": 1, "opacity": 0.75}, "encoding": {"x": {"field": "t", "type": "temporal"}, "y": {"field": "tm", "type": "quantitative", "scale": {"domain": [0, 5]}, "axis": {"orient": "right", "values": [0, 2.5, 5], "tickCount": 10, "format": "~g", "title": "[s]", "titleAngle": 270, "titlePadding": 36, "titleColor": "#ff0000", "labelColor": "#ff0000", "grid": false, "domain": true, "domainColor": "#ff4d4d", "ticks": true, "tickSize": -5, "tickColor": "#ff0000"}}, "color": {"datum": "Tmean", "type": "nominal"}}}
  ],
  "resolve": {"scale": {"y": "independent"}}
}
]
}
